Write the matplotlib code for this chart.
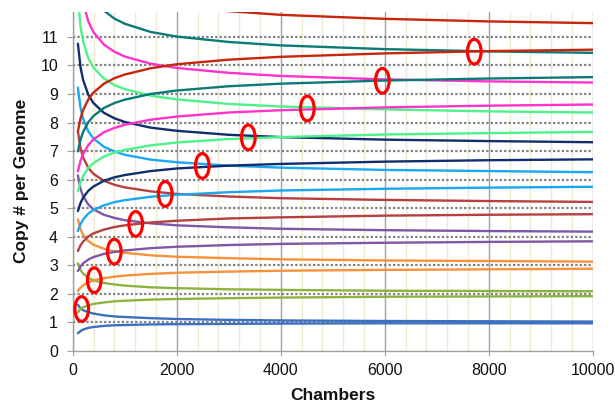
import matplotlib
matplotlib.use("Agg")
import matplotlib.pyplot as plt
from matplotlib.patches import Ellipse
from matplotlib.ticker import MultipleLocator

plt.rcParams['font.family'] = ['Liberation Sans', 'DejaVu Sans']

# ---------------- data ----------------
chambers = [100, 150, 200, 300, 400, 600, 800, 1000, 1500, 2000, 3000, 4000, 6000, 8000, 10000]

upper_1 = [1.62, 1.49, 1.43, 1.36, 1.31, 1.25, 1.21, 1.19, 1.15, 1.12, 1.09, 1.07, 1.05, 1.04, 1.03]
lower_1 = [0.62, 0.70, 0.75, 0.81, 0.84, 0.88, 0.90, 0.91, 0.93, 0.94, 0.95, 0.96, 0.97, 0.97, 0.97]
upper_2 = [3.07, 2.84, 2.71, 2.56, 2.48, 2.38, 2.33, 2.29, 2.23, 2.20, 2.16, 2.14, 2.11, 2.10, 2.09]
lower_2 = [1.35, 1.48, 1.53, 1.60, 1.65, 1.70, 1.74, 1.76, 1.80, 1.82, 1.85, 1.87, 1.90, 1.91, 1.92]
upper_3 = [4.61, 4.26, 4.07, 3.85, 3.72, 3.58, 3.49, 3.44, 3.35, 3.30, 3.25, 3.21, 3.17, 3.15, 3.13]
lower_3 = [2.10, 2.22, 2.30, 2.40, 2.47, 2.55, 2.60, 2.64, 2.70, 2.74, 2.78, 2.81, 2.84, 2.86, 2.88]
upper_4 = [6.15, 5.68, 5.42, 5.13, 4.96, 4.77, 4.66, 4.58, 4.47, 4.40, 4.33, 4.28, 4.23, 4.20, 4.18]
lower_4 = [2.80, 2.96, 3.07, 3.20, 3.29, 3.40, 3.47, 3.52, 3.60, 3.65, 3.71, 3.75, 3.79, 3.82, 3.84]
upper_5 = [7.69, 7.10, 6.78, 6.41, 6.20, 5.96, 5.82, 5.73, 5.59, 5.50, 5.41, 5.35, 5.29, 5.25, 5.22]
lower_5 = [3.50, 3.70, 3.83, 4.01, 4.12, 4.25, 4.34, 4.40, 4.50, 4.56, 4.64, 4.68, 4.74, 4.77, 4.79]
upper_6 = [9.22, 8.52, 8.13, 7.69, 7.44, 7.15, 6.99, 6.87, 6.70, 6.61, 6.49, 6.42, 6.34, 6.30, 6.26]
lower_6 = [4.20, 4.44, 4.60, 4.81, 4.94, 5.10, 5.21, 5.28, 5.40, 5.47, 5.56, 5.62, 5.68, 5.72, 5.75]
upper_7 = [10.76, 9.94, 9.49, 8.97, 8.68, 8.34, 8.15, 8.02, 7.82, 7.71, 7.57, 7.49, 7.40, 7.35, 7.31]
lower_7 = [4.90, 5.18, 5.37, 5.61, 5.76, 5.96, 6.08, 6.16, 6.30, 6.39, 6.49, 6.55, 6.63, 6.68, 6.71]
upper_8 = [12.30, 11.37, 10.84, 10.25, 9.92, 9.54, 9.31, 9.17, 8.94, 8.81, 8.65, 8.56, 8.46, 8.39, 8.35]
lower_8 = [5.59, 5.92, 6.13, 6.41, 6.58, 6.81, 6.95, 7.04, 7.20, 7.30, 7.42, 7.49, 7.58, 7.63, 7.67]
upper_9 = [13.84, 12.79, 12.20, 11.54, 11.16, 10.73, 10.48, 10.31, 10.06, 9.91, 9.74, 9.63, 9.51, 9.44, 9.40]
lower_9 = [6.29, 6.66, 6.90, 7.21, 7.41, 7.66, 7.81, 7.92, 8.10, 8.21, 8.35, 8.43, 8.53, 8.59, 8.63]
upper_10 = [15.37, 14.21, 13.55, 12.82, 12.40, 11.92, 11.64, 11.46, 11.17, 11.01, 10.82, 10.70, 10.57, 10.49, 10.44]
lower_10 = [6.99, 7.40, 7.67, 8.01, 8.23, 8.51, 8.68, 8.80, 9.00, 9.12, 9.27, 9.36, 9.47, 9.54, 9.59]
upper_11 = [16.91, 15.63, 14.91, 14.10, 13.64, 13.11, 12.81, 12.60, 12.29, 12.11, 11.90, 11.77, 11.63, 11.54, 11.48]
lower_11 = [7.69, 8.14, 8.43, 8.81, 9.05, 9.36, 9.55, 9.68, 9.90, 10.04, 10.20, 10.30, 10.42, 10.50, 10.55]

copy_levels = [1, 2, 3, 4, 5, 6, 7, 8, 9, 10, 11]

# red ellipses marking where neighbouring bounds separate
ellipse_x = [173, 415, 800, 1212, 1780, 2492, 3377, 4512, 5954, 7723]
ellipse_y = [1.47, 2.48, 3.48, 4.45, 5.50, 6.48, 7.48, 8.49, 9.46, 10.48]

x_ticks = [0, 2000, 4000, 6000, 8000, 10000]
y_ticks = [0, 1, 2, 3, 4, 5, 6, 7, 8, 9, 10, 11]

# ---------------- styling ----------------
level_colors = ['#3D6FC0', '#8DB33F', '#F7923A', '#7E57A6', '#B5403E', '#1AA8F0',
                '#102E6E', '#4DF28A', '#FF33CC', '#0A7A78', '#C8260A']
uppers = [upper_1, upper_2, upper_3, upper_4, upper_5, upper_6,
          upper_7, upper_8, upper_9, upper_10, upper_11]
lowers = [lower_1, lower_2, lower_3, lower_4, lower_5, lower_6,
          lower_7, lower_8, lower_9, lower_10, lower_11]

W, H = 615, 408
fig = plt.figure(figsize=(W / 100, H / 100), dpi=100)
x0, x1, y0, y1 = 72.7, 592.7, 351.0, 11.7
ax = fig.add_axes([x0 / W, 1 - y0 / H, (x1 - x0) / W, (y0 - y1) / H])

ax.set_xlim(0, 10000)
ax.set_ylim(0, 11.88)

# vertical grid lines
ax.xaxis.set_minor_locator(MultipleLocator(400))
ax.set_xticks(x_ticks)
ax.grid(which='minor', axis='x', color='#EDE9D3', linewidth=1.0, zorder=0)
ax.grid(which='major', axis='x', color='#A0A0A0', linewidth=1.0, zorder=0)
ax.set_axisbelow(True)

# dotted integer reference lines
for lv in copy_levels:
    ax.plot([0, 10000], [lv, lv], color='#7F7F7F', linewidth=1.6,
            linestyle=(0, (1, 1)), zorder=2)

# confidence bound curves
for up, lo, c in zip(uppers, lowers, level_colors):
    ax.plot(chambers, up, color=c, linewidth=1.7, zorder=3, solid_capstyle='round')
    ax.plot(chambers, lo, color=c, linewidth=1.7, zorder=3, solid_capstyle='round')

# red ellipses
for ex, ey in zip(ellipse_x, ellipse_y):
    ax.add_patch(Ellipse((ex, ey), width=263, height=0.865, fill=False,
                         edgecolor='#FF0000', linewidth=2.3, zorder=5))

ax.set_yticks(y_ticks)
ax.set_xticklabels([str(t) for t in x_ticks])
ax.set_yticklabels([str(t) for t in y_ticks])

for s in ['top', 'right']:
    ax.spines[s].set_visible(False)
for s in ['left', 'bottom']:
    ax.spines[s].set_color('#A0A0A0')
    ax.spines[s].set_linewidth(1.0)

ax.tick_params(axis='y', which='major', length=4.5, color='#A0A0A0', pad=6,
               labelsize=11.5, labelcolor='#111111')
ax.tick_params(axis='x', which='major', length=3.6, color='#A0A0A0', pad=5,
               labelsize=11.5, labelcolor='#111111')
ax.tick_params(axis='x', which='minor', length=0)

ax.set_xlabel('Chambers', fontsize=12.5, fontweight='bold', labelpad=7, color='#111111')
ax.set_ylabel('Copy # per Genome', fontsize=12.5, fontweight='bold', labelpad=8, color='#111111')

fig.savefig('out.png', dpi=100)
